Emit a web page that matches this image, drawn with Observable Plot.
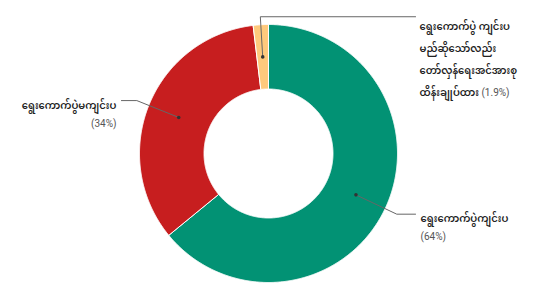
<!DOCTYPE html>
<html><head><meta charset="utf-8">
<script src="https://cdn.jsdelivr.net/npm/d3@7"></script>
<script src="https://cdn.jsdelivr.net/npm/@observablehq/plot@0.6"></script>
<style>
body{margin:0;background:#fff}
#chart{width:536px;height:300px}
</style>
</head><body><div id="chart"></div>
<script>
// ---- data ----
const categories = [
  "ရွေးကောက်ပွဲကျင်းပ",
  "ရွေးကောက်ပွဲမကျင်းပ",
  "ရွေးကောက်ပွဲ ကျင်းပ\nမည်ဆိုသော်လည်း\nတော်လှန်ရေးအင်အားစု\nထိန်းချုပ်ထား"
];
const values = [64, 34, 1.9];
const percentLabels = ["(64%)", "(34%)", "(1.9%)"];
const colors = ["#029274", "#c71e1f", "#fec97c"];

// ---- layout (code, not data) ----
const W = 536, H = 300, cx = 268, cy = 153, R = 129;
const rInner = 0.5, rDot = 0.75, endX = 1.14;
const elbowR = [1.1, 1.1, 1.062];
const side = [1, -1, 1];
const FONT = '"Noto Sans Myanmar","Padauk","Myanmar Text","Noto Sans",sans-serif';

const total = d3.sum(values);
let acc = 0;
const slices = values.map((v, i) => {
  const a0 = acc / total * 2 * Math.PI; acc += v;
  const a1 = acc / total * 2 * Math.PI;
  return {i, a0, a1, mid: (a0 + a1) / 2};
});
const pt = (r, a) => ({x: r * Math.sin(a), y: r * Math.cos(a)});

const poly = [];
slices.forEach(s => {
  const n = Math.max(4, Math.ceil((s.a1 - s.a0) / 0.005));
  const pts = [];
  for (let k = 0; k <= n; k++) pts.push(pt(1, s.a0 + (s.a1 - s.a0) * k / n));
  for (let k = n; k >= 0; k--) pts.push(pt(rInner, s.a0 + (s.a1 - s.a0) * k / n));
  pts.push(pts[0]);
  pts.forEach(p => poly.push({...p, cat: categories[s.i]}));
});

const leaders = [], dots = [], labs = [];
slices.forEach(s => {
  const d = pt(rDot, s.mid), e = pt(elbowR[s.i], s.mid);
  const end = {x: side[s.i] * endX, y: e.y};
  [d, e, end].forEach(p => leaders.push({...p, cat: categories[s.i]}));
  dots.push(d);
  labs.push({x: end.x, y: end.y, side: side[s.i], label: categories[s.i], pct: percentLabels[s.i], multi: categories[s.i].includes("\n")});
});
const right = labs.filter(d => !d.multi && d.side > 0);
const left = labs.filter(d => !d.multi && d.side < 0);
const multi = labs.filter(d => d.multi);

const labelStyle = {fontSize: 10, fontWeight: 600, fill: "#222", lineAnchor: "middle"};
const pctStyle = {fontSize: 10, fill: "#555", fontFamily: "Roboto, sans-serif", lineAnchor: "middle"};

const plot = Plot.plot({
  width: W, height: H, margin: 0,
  x: {domain: [-cx / R, (W - cx) / R], axis: null},
  y: {domain: [-(H - cy) / R, cy / R], axis: null},
  color: {domain: categories, range: colors},
  style: {background: "#fff", fontFamily: FONT},
  marks: [
    Plot.line(poly, {x: "x", y: "y", z: "cat", fill: "cat", stroke: "#fff", strokeWidth: 1, curve: "linear"}),
    Plot.line(leaders, {x: "x", y: "y", z: "cat", stroke: "#666", strokeWidth: 1}),
    Plot.dot(dots, {x: "x", y: "y", r: 1.8, fill: "#333", stroke: null}),
    Plot.text(right, {x: "x", y: "y", text: "label", dy: 5, dx: 5, textAnchor: "start", ...labelStyle}),
    Plot.text(right, {x: "x", y: "y", text: "pct", dy: 23, dx: 5, textAnchor: "start", ...pctStyle}),
    Plot.text(left, {x: "x", y: "y", text: "label", dy: 5, dx: -5, textAnchor: "end", ...labelStyle}),
    Plot.text(left, {x: "x", y: "y", text: "pct", dy: 23, dx: -5, textAnchor: "end", ...pctStyle}),
    Plot.text(multi, {x: "x", y: "y", text: "label", dy: -2, dx: 4, textAnchor: "start",
      lineAnchor: "top", lineHeight: 2.2, fontSize: 10, fontWeight: 600, fill: "#222"})
  ]
});
document.getElementById("chart").appendChild(plot);

// inline percentage after the last line of multi-line labels
plot.querySelectorAll("text").forEach(t => {
  const m = multi.find(d => d.label.replace(/\n/g, "") === t.textContent);
  if (!m) return;
  const spans = t.querySelectorAll("tspan");
  const last = spans[spans.length - 1];
  const ts = document.createElementNS("http://www.w3.org/2000/svg", "tspan");
  ts.setAttribute("fill", "#555");
  ts.setAttribute("font-weight", "400");
  ts.setAttribute("font-size", "10");
  ts.setAttribute("font-family", "Roboto, sans-serif");
  ts.textContent = " " + m.pct;
  last.appendChild(ts);
});
</script>
</body></html>
